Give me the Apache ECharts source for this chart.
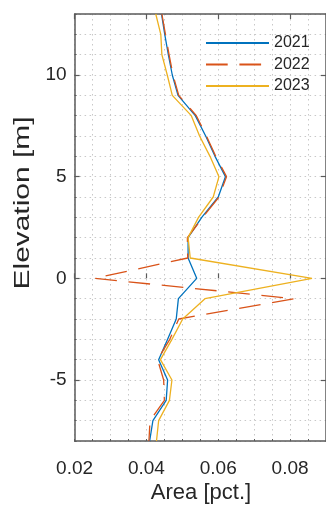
<!DOCTYPE html>
<html>
<head>
<meta charset="utf-8">
<script src="https://cdn.jsdelivr.net/npm/echarts@6/dist/echarts.min.js"></script>
<style>
  html, body { margin: 0; padding: 0; background: #fff; }
  #chart { width: 326px; height: 505px; }
</style>
</head>
<body>
<div id="chart"></div>
<script>
// Elevation levels (m), top to bottom
const elevation = [13, 12, 11, 10, 9, 8, 7, 6, 5, 4, 3, 2, 1, 0, -1, -2, -3, -4, -5, -6, -7, -8];

// Area share per elevation level
const area2021 = [0.0442, 0.0451, 0.0461, 0.0472, 0.0488, 0.0536, 0.0565, 0.0591, 0.0620, 0.0600, 0.0554,
                  0.0516, 0.0516, 0.0540, 0.0489, 0.0483, 0.0459, 0.0434, 0.0459, 0.0455, 0.0418, 0.0409];
const area2022 = [0.0443, 0.0453, 0.0463, 0.0474, 0.0490, 0.0539, 0.0567, 0.0593, 0.0623, 0.0602, 0.0557,
                  0.0514, 0.0515, 0.0256, 0.0811, 0.0490, 0.0465, 0.0431, 0.0448, 0.0450, 0.0410, 0.0407];
const area2023 = [0.0426, 0.0440, 0.0443, 0.0458, 0.0472, 0.0525, 0.0548, 0.0577, 0.0602, 0.0586, 0.0545,
                  0.0516, 0.0522, 0.0861, 0.0563, 0.0501, 0.0471, 0.0439, 0.0471, 0.0464, 0.0434, 0.0428];

const seriesNames = ['2021', '2022', '2023'];
const yTickValues = [-5, 0, 5, 10];

const FONT = 'Liberation Sans, Arial, Helvetica, sans-serif';
const AXIS_COLOR = '#5a5a5a';
const TEXT_COLOR = '#262626';
const DOTTED = { show: true, lineStyle: { color: '#c8c8c8', width: 1, type: [1.5, 3.5] } };
const AXIS_LINE = { show: true, onZero: false, lineStyle: { color: AXIS_COLOR, width: 1.5 } };
const MAJOR_TICK = { show: true, inside: true, length: 5, lineStyle: { color: AXIS_COLOR, width: 1.2 } };
const MINOR_TICK = { show: true, inside: true, length: 2, lineStyle: { color: AXIS_COLOR, width: 1 } };

const X_MIN = 0.02, X_MAX = 0.09, Y_MIN = -8, Y_MAX = 13;

const pairs = (xs) => xs.map((v, i) => [v, elevation[i]]);

const chart = echarts.init(document.getElementById('chart'), null, { renderer: 'canvas' });

chart.setOption({
  animation: false,
  backgroundColor: '#fff',
  grid: { left: 74.6, top: 14, width: 254.5, height: 427, containLabel: false },
  legend: {
    orient: 'vertical',
    left: 205,
    top: 35,
    padding: 0,
    itemWidth: 63,
    itemHeight: 16,
    itemGap: 5.5,
    data: seriesNames,
    itemStyle: { opacity: 0 },
    textStyle: { fontFamily: FONT, fontSize: 16, color: TEXT_COLOR }
  },
  xAxis: [
    { // fine dotted grid every 0.005
      type: 'value', position: 'bottom', min: X_MIN, max: X_MAX, interval: 0.005,
      axisLine: AXIS_LINE, axisTick: MINOR_TICK, axisLabel: { show: false }, splitLine: DOTTED
    },
    { // labelled ticks every 0.02
      type: 'value', position: 'bottom', min: X_MIN, max: X_MAX, interval: 0.02,
      axisLine: { show: false }, axisTick: MAJOR_TICK,
      axisLabel: {
        show: true, margin: 18, fontFamily: FONT, fontSize: 19, color: TEXT_COLOR,
        formatter: (v) => v.toFixed(2)
      },
      splitLine: { show: false }
    },
    { // top frame
      type: 'value', position: 'top', min: X_MIN, max: X_MAX, interval: 0.02,
      axisLine: AXIS_LINE, axisTick: MAJOR_TICK, axisLabel: { show: false }, splitLine: { show: false }
    }
  ],
  yAxis: [
    { // fine dotted grid every metre
      type: 'value', position: 'left', min: Y_MIN, max: Y_MAX, interval: 1,
      axisLine: AXIS_LINE, axisTick: MINOR_TICK, axisLabel: { show: false }, splitLine: DOTTED
    },
    { // labelled ticks every 5 m
      type: 'value', position: 'left', min: Y_MIN, max: Y_MAX,
      axisLine: { show: false },
      axisTick: Object.assign({ customValues: yTickValues }, MAJOR_TICK),
      axisLabel: { show: true, customValues: yTickValues, margin: 8, fontFamily: FONT, fontSize: 19, color: TEXT_COLOR },
      splitLine: { show: false }
    },
    { // right frame
      type: 'value', position: 'right', min: Y_MIN, max: Y_MAX,
      axisLine: AXIS_LINE,
      axisTick: Object.assign({ customValues: yTickValues }, MAJOR_TICK),
      axisLabel: { show: false }, splitLine: { show: false }
    }
  ],
  graphic: [
    {
      type: 'text',
      x: 201, y: 493,
      style: { text: 'Area [pct.]', fontFamily: FONT, fontSize: 22, fill: TEXT_COLOR, align: 'center', verticalAlign: 'middle' }
    },
    {
      type: 'text',
      x: 23, y: 203,
      rotation: Math.PI / 2,
      scaleX: 1.36,
      style: { text: 'Elevation [m]', fontFamily: FONT, fontSize: 22, fill: TEXT_COLOR, align: 'center', verticalAlign: 'middle' }
    }
  ],
  series: [
    {
      name: seriesNames[0], type: 'line', data: pairs(area2021),
      xAxisIndex: 0, yAxisIndex: 0, symbol: 'none',
      lineStyle: { color: '#0072BD', width: 1.3 }, itemStyle: { color: '#0072BD' }
    },
    {
      name: seriesNames[1], type: 'line', data: pairs(area2022),
      xAxisIndex: 0, yAxisIndex: 0, symbol: 'none',
      lineStyle: { color: '#D95319', width: 1.3, type: [21.7, 11.7] }, itemStyle: { color: '#D95319' }
    },
    {
      name: seriesNames[2], type: 'line', data: pairs(area2023),
      xAxisIndex: 0, yAxisIndex: 0, symbol: 'none',
      lineStyle: { color: '#EDB120', width: 1.3 }, itemStyle: { color: '#EDB120' }
    }
  ]
});
</script>
</body>
</html>
